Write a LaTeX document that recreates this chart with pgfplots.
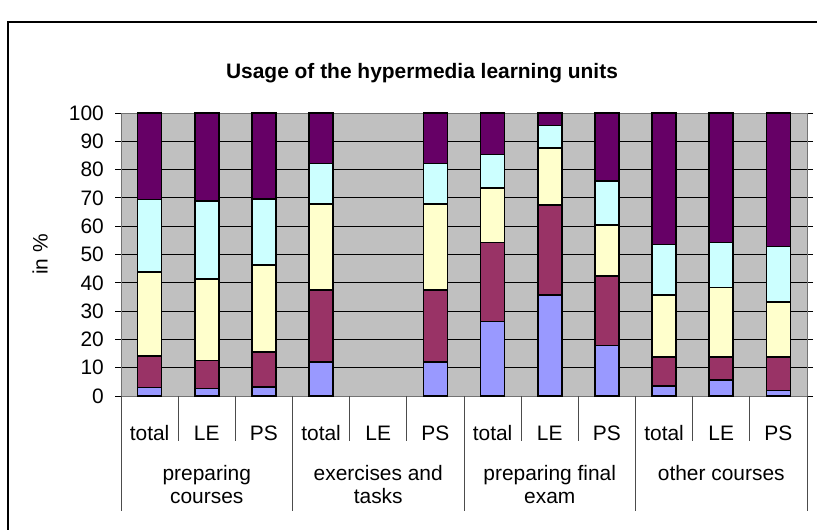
\documentclass[border=0pt]{standalone}
\usepackage{pgfplots}
\pgfplotsset{compat=1.18}
\usepackage{pgfplotstable}
\usepackage{fontspec}
\setmainfont{Liberation Sans}
\definecolor{cblue}{HTML}{9999FF}
\definecolor{cmaroon}{HTML}{993366}
\definecolor{cyellow}{HTML}{FFFFCC}
\definecolor{ccyan}{HTML}{CCFFFF}
\definecolor{cpurple}{HTML}{660066}
\definecolor{bggray}{HTML}{C0C0C0}
% category 4 (exercises and tasks, LE) has no data
\pgfplotstableread{
x  b     m     y     c     p
0  3.0   11.2  29.7  25.5  30.6
1  2.7   9.8   28.8  27.7  31.0
2  3.2   12.3  30.8  23.4  30.3
3  12.1  25.4  30.3  14.4  17.8
5  12.1  25.4  30.3  14.4  17.8
6  26.3  27.9  19.2  12.0  14.6
7  35.7  31.7  20.3  7.9   4.4
8  17.8  24.6  18.1  15.4  24.1
9  3.6   10.1  22.0  17.9  46.4
10 5.7   8.0   24.7  15.8  45.8
11 1.9   11.8  19.6  19.5  47.2
}\usage
\newcommand{\bigf}{\fontsize{21}{25}\selectfont}
\begin{document}
\begin{tikzpicture}[font=\bigf]
\useasboundingbox (0,0) rectangle (817bp,530bp);
\draw[line width=1.2bp,black] (8bp,-5bp) -- (8bp,508bp) -- (830bp,508bp);
\begin{axis}[
  at={(121bp,134bp)}, anchor=south west,
  scale only axis, width=686bp, height=283bp,
  xmin=-0.5, xmax=11.5, ymin=0, ymax=100,
  ybar stacked, bar width=24bp,
  axis background/.style={fill=bggray},
  axis line style={draw=black!55, line width=0.8bp},
  ytick={0,10,...,100},
  ymajorgrids, grid style={black, line width=0.8bp},
  tick align=outside,
  major tick length=6bp,
  ytick style={black, line width=0.8bp},
  xtick={0,...,11},
  xtick style={draw=none},
  xticklabels={total,LE,PS,total,LE,PS,total,LE,PS,total,LE,PS},
  xticklabel style={anchor=base, yshift=-38bp, font=\bigf},
  yticklabel style={font=\bigf, inner sep=0pt, xshift=-11bp},
  /pgf/number format/assume math mode=true,
  ylabel={in \%},
  ylabel style={at={(axis description cs:-0.118,0.5)}, anchor=center, font=\bigf},
  title={\bfseries Usage of the hypermedia learning units},
  title style={at={(axis description cs:0.4388,1.12)}, anchor=center, font=\bigf},
  clip=false,
  every axis plot/.append style={draw=black, line width=1.6bp},
]
\addplot[fill=cblue] table[x=x,y=b]{\usage};
\addplot[fill=cmaroon] table[x=x,y=m]{\usage};
\addplot[fill=cyellow] table[x=x,y=y]{\usage};
\addplot[fill=ccyan] table[x=x,y=c]{\usage};
\addplot[fill=cpurple] table[x=x,y=p]{\usage};
\pgfplotsinvokeforeach{0.5,1.5,3.5,4.5,6.5,7.5,9.5,10.5}{
  \draw[black!70, line width=0.9bp] (axis cs:#1,0) -- ++(0pt,-45bp);
}
\pgfplotsinvokeforeach{-0.5,2.5,5.5,8.5,11.5}{
  \draw[black!70, line width=0.9bp] (axis cs:#1,0) -- ++(0pt,-115bp);
}
\node[anchor=base] at ([yshift=-84bp]axis cs:1,0) {preparing};
\node[anchor=base] at ([yshift=-107bp]axis cs:1,0) {courses};
\node[anchor=base] at ([yshift=-84bp]axis cs:4,0) {exercises and};
\node[anchor=base] at ([yshift=-107bp]axis cs:4,0) {tasks};
\node[anchor=base] at ([yshift=-84bp]axis cs:7,0) {preparing final};
\node[anchor=base] at ([yshift=-107bp]axis cs:7,0) {exam};
\node[anchor=base] at ([yshift=-84bp]axis cs:10,0) {other courses};
\end{axis}
\end{tikzpicture}
\end{document}
